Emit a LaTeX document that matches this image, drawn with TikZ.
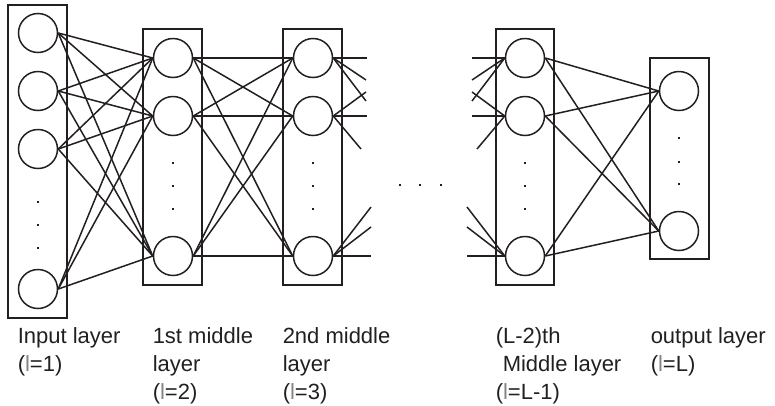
\documentclass[tikz,border=0pt]{standalone}
\usepackage{fontspec}
\setmainfont{Liberation Sans}
\usepackage{tikz}

\definecolor{ink}{RGB}{35,31,32}
% the layer index letter is printed lighter
\newcommand{\lidx}{{\color{ink!55}l}}

\begin{document}
\begin{tikzpicture}[x=1pt, y=-1pt, line width=1.5pt, color=ink,
    neuron/.style={shape=circle, draw=ink, minimum size=39pt, inner sep=0pt},
    vdot/.style={shape=rectangle, fill=ink, minimum size=2.4pt, inner sep=0pt},
    lbl/.style={anchor=north west, align=left, inner sep=0pt, text=ink,
        font=\fontsize{22}{28}\selectfont}]
    \useasboundingbox (0,0) rectangle (775,405);

    % layer boxes
    \draw (8,5) rectangle (67,318);
    \draw (143,29) rectangle (202,285);
    \draw (283,29) rectangle (342,285);
    \draw (496,29) rectangle (554,285);
    \draw (650,58) rectangle (709,259);

    % neurons
    \node[neuron] (inp1) at (38,33) {};
    \node[neuron] (inp2) at (38,91) {};
    \node[neuron] (inp3) at (38,149) {};
    \node[neuron] (inp4) at (38,289) {};
    \node[neuron] (fst1) at (173,58) {};
    \node[neuron] (fst2) at (173,116) {};
    \node[neuron] (fst3) at (173,256) {};
    \node[neuron] (snd1) at (313,58) {};
    \node[neuron] (snd2) at (313,116) {};
    \node[neuron] (snd3) at (313,256) {};
    \node[neuron] (pen1) at (525,58) {};
    \node[neuron] (pen2) at (525,116) {};
    \node[neuron] (pen3) at (525,256) {};
    \node[neuron] (out1) at (679,91) {};
    \node[neuron] (out2) at (679,231) {};

    % vertical dots inside the boxes
    \foreach \y in {202,225,248} \node[vdot] (inpd\y) at (38,\y) {};
    \foreach \y in {163,186,209} {
        \node[vdot] (fstd\y) at (173,\y) {};
        \node[vdot] (sndd\y) at (313,\y) {};
        \node[vdot] (pend\y) at (525,\y) {};
    }
    \foreach \y in {138,162,184} \node[vdot] (outd\y) at (679,\y) {};
    % dots between the hidden layers
    \foreach \x in {400,420,441} \node[vdot] (gapd\x) at (\x,185) {};

    % full connections
    \foreach \a in {1,...,4}
        \foreach \b in {1,2,3}
            \draw (inp\a.east) -- (fst\b.west);
    \foreach \a in {1,2,3}
        \foreach \b in {1,2,3}
            \draw (fst\a.east) -- (snd\b.west);
    \foreach \a in {1,2,3}
        \foreach \b in {1,2}
            \draw (pen\a.east) -- (out\b.west);

    % cut-off connections leaving the 2nd middle layer
    \coordinate (sa1) at (367,58);
    \coordinate (sa2) at (366,80);
    \coordinate (sa3) at (366,101);
    \coordinate (sb1) at (366,92);
    \coordinate (sb2) at (367,116);
    \coordinate (sb3) at (361,149);
    \coordinate (sc1) at (371,207);
    \coordinate (sc2) at (371,227);
    \coordinate (sc3) at (371,256);
    \foreach \i in {1,2,3} {
        \draw (snd1.east) -- (sa\i);
        \draw (snd2.east) -- (sb\i);
        \draw (snd3.east) -- (sc\i);
    }

    % cut-off connections entering the (L-2)th middle layer
    \coordinate (ta1) at (472,58);
    \coordinate (ta2) at (472,80);
    \coordinate (ta3) at (472,101);
    \coordinate (tb1) at (472,92);
    \coordinate (tb2) at (472,116);
    \coordinate (tb3) at (477,149);
    \coordinate (tc1) at (467,207);
    \coordinate (tc2) at (467,227);
    \coordinate (tc3) at (467,256);
    \foreach \i in {1,2,3} {
        \draw (ta\i) -- (pen1.west);
        \draw (tb\i) -- (pen2.west);
        \draw (tc\i) -- (pen3.west);
    }

    % layer names
    \node[lbl] (lbinp) at (17,327) {Input layer\\(\lidx=1)};
    \node[lbl] (lbfst) at (152,327) {1st middle\\layer\\(\lidx=2)};
    \node[lbl] (lbsnd) at (282,327) {2nd middle\\layer\\(\lidx=3)};
    \node[lbl] (lbpen) at (495,327) {(L-2)th\\\hspace{7pt}Middle layer\\(\lidx=L-1)};
    \node[lbl] (lbout) at (650,327) {output layer\\(\lidx=L)};
\end{tikzpicture}
\end{document}
